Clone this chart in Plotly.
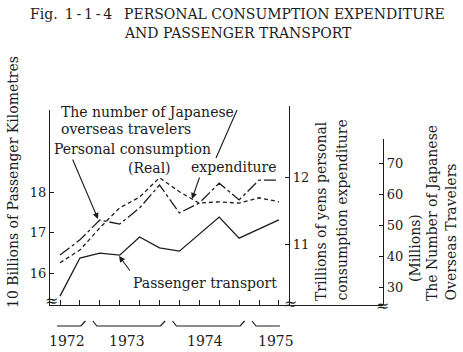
import plotly.graph_objects as go

# ---------------- data ----------------
quarters = ["1972 III", "1972 IV", "1973 I", "1973 II", "1973 III", "1973 IV",
            "1974 I", "1974 II", "1974 III", "1974 IV", "1975 I", "1975 II"]
quarter_pos = list(range(len(quarters)))
passenger_transport = [15.43, 16.37, 16.49, 16.44, 16.89, 16.62, 16.54, 16.96, 17.38, 16.86, 17.09, 17.31]
personal_consumption = [10.72, 10.91, 11.24, 11.54, 11.70, 11.99, 11.78, 11.61, 11.63, 11.61, 11.69, 11.63]
overseas_travelers = [40.3, 45.2, 51.6, 50.3, 55.5, 62.9, 53.9, 57.1, 63.5, 58.1, 64.5, 64.5]
years = ["1972", "1973", "1974", "1975"]
year_quarter_span = [(0, 1), (2, 5), (6, 9), (10, 11)]
left_ticks = [16, 17, 18]
mid_ticks = [11, 12]
right_ticks = [30, 40, 50, 60, 70]

# ---------------- layout geometry (pixels) ----------------
W, H = 463, 352
L, R, T, B = 50, 383, 106, 305
FONT = "DejaVu Serif"
INK = "#1c1c1c"
LBL = 14


def fx(px):
    return (px - L) / (R - L)


def fy(py):
    return (B - py) / (B - T)


Q0, QW = 60, 19.9  # pixel of first quarter, pixels per quarter
x_range = [(L - Q0) / QW, (R - Q0) / QW]

fig = go.Figure()
line_style = dict(color=INK, width=1.3)
fig.add_trace(go.Scatter(x=quarter_pos, y=passenger_transport, mode="lines",
                         line=dict(**line_style), xaxis="x", yaxis="y",
                         name="Passenger transport"))
fig.add_trace(go.Scatter(x=quarter_pos, y=personal_consumption, mode="lines",
                         line=dict(**line_style, dash="4px,3px"), xaxis="x", yaxis="y2",
                         name="Personal consumption expenditure (Real)"))
fig.add_trace(go.Scatter(x=quarter_pos, y=overseas_travelers, mode="lines",
                         line=dict(**line_style, dash="12px,3px,3px,3px"), xaxis="x", yaxis="y3",
                         name="Japanese overseas travelers"))

axis_common = dict(showgrid=False, zeroline=False, showline=True, linecolor=INK,
                   linewidth=1.2, ticks="inside", ticklen=4, tickcolor=INK, tickwidth=1.1,
                   tickfont=dict(family=FONT, size=13, color=INK), fixedrange=True)

fig.update_layout(
    width=W, height=H,
    margin=dict(l=L, r=W - R, t=T, b=H - B, pad=0),
    paper_bgcolor="white", plot_bgcolor="rgba(0,0,0,0)",
    showlegend=False,
    xaxis=dict(axis_common, domain=[0, 1], range=x_range, anchor="y",
               tickvals=quarter_pos, showticklabels=False, ticklen=5),
    yaxis=dict(axis_common, domain=[0, fy(110)], anchor="x", side="left",
               range=[16 - (B - 273) / 40.5, 16 + (273 - 110) / 40.5],
               tickvals=left_ticks),
    yaxis2=dict(axis_common, domain=[0, 1], anchor="free", position=fx(289), side="right",
                range=[11 - (B - 244) / 67.0, 12 + (177 - T) / 67.0],
                tickvals=mid_ticks),
    yaxis3=dict(axis_common, domain=[0, fy(139)], anchor="free", position=1.0, side="right",
                range=[30 - (B - 287) / 3.1, 30 + (287 - 139) / 3.1],
                tickvals=right_ticks),
)

ann = []


def text(s, px, py, size=LBL, xanchor="left", yanchor="middle", angle=0):
    ann.append(dict(text=s, x=fx(px), y=fy(py), xref="paper", yref="paper",
                    xanchor=xanchor, yanchor=yanchor, showarrow=False, textangle=angle,
                    font=dict(family=FONT, size=size, color=INK)))


# title
text("Fig.\u2009 1\u2009-\u20091\u2009-\u20094", 28, 14, size=14)
text("PERSONAL CONSUMPTION EXPENDITURE", 122, 14, size=14)
text("AND PASSENGER TRANSPORT", 122, 33, size=14)

# series labels
text("The number of Japanese", 59, 112)
text("overseas travelers", 59, 129)
text("Personal consumption", 52, 149)
text("(Real)", 126, 168)
text("expenditure", 189, 167)
text("Passenger transport", 131, 283)

# axis titles
text("10 Billions of Passenger Kilometres", 13, 310, xanchor="center", yanchor="bottom", angle=-90)
text("Trillions of yens personal", 321, 303, xanchor="center", yanchor="bottom", angle=-90)
text("consumption expenditure", 341, 303, xanchor="center", yanchor="bottom", angle=-90)
text("(Millions)", 415, 248, xanchor="center", yanchor="middle", angle=-90)
text("The Number of Japanese", 432, 303, xanchor="center", yanchor="bottom", angle=-90)
text("Overseas Travelers", 450, 303, xanchor="center", yanchor="bottom", angle=-90)

# axis break marks
for bx, by in [(51, 300), (290, 303), (382, 305)]:
    text("≈", bx, by, size=16, xanchor="center")

# year labels under brackets
for yr, lx in zip(years, [67, 127, 205, 276]):
    text(yr, lx, 341, xanchor="center")


# arrows
def arrow(tip, tail):
    ann.append(dict(text="", x=fx(tip[0]), y=fy(tip[1]), xref="paper", yref="paper",
                    ax=tail[0] - tip[0], ay=tail[1] - tip[1], axref="pixel", ayref="pixel",
                    showarrow=True, arrowhead=2, arrowsize=1.1, arrowwidth=1.1,
                    arrowcolor=INK, standoff=0))


arrow((98, 219), (72, 158))
arrow((192, 199), (200, 176))
arrow((119, 256), (131, 272))

fig.update_layout(annotations=ann)

shapes = []
# leader line for travelers label
shapes.append(dict(type="line", xref="paper", yref="paper",
                   x0=fx(237), y0=fy(110), x1=fx(216), y1=fy(158),
                   line=dict(color=INK, width=1.1)))
# year brackets (x in quarter units)
y_lo, y_hi = fy(326), fy(321)
for i, (a, b) in enumerate(year_quarter_span):
    pts = []
    if i > 0:
        pts.append((a - 0.35, y_hi))
    pts.append((a - 0.15, y_lo))
    pts.append((b + 0.05, y_lo))
    if i < len(year_quarter_span) - 1:
        pts.append((b + 0.28, y_hi))
    path = "M " + " L ".join(f"{px},{py}" for px, py in pts)
    shapes.append(dict(type="path", xref="x", yref="paper", path=path,
                       line=dict(color=INK, width=1.2)))
fig.update_layout(shapes=shapes)

fig.write_html("out.html")
